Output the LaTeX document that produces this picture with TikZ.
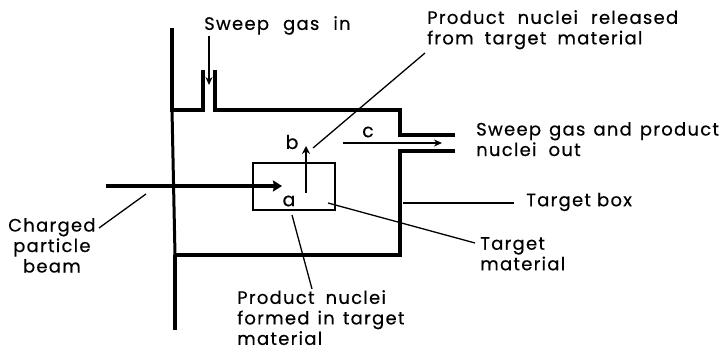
\documentclass[tikz,border=0pt]{standalone}
\usepackage{fontspec}
\setmainfont[LetterSpace=7,FakeBold=0.4]{Poppins}
\usetikzlibrary{arrows.meta}
\newcommand{\gp}[1]{\kern#1pt\relax}
\begin{document}
\begin{tikzpicture}[x=1pt,y=-1pt,
  wall/.style={line width=4.6pt,line cap=butt,line join=miter},
  midwall/.style={line width=3pt},
  thin line/.style={line width=1.3pt},
  arrowline/.style={line width=1.6pt,-{Stealth[length=8pt,width=7pt]}},
  beamline/.style={line width=3.8pt,-{Stealth[length=9pt,width=11pt,inset=1pt]}},
  lab/.style={inner sep=0pt,align=left,anchor=north west,font=\fontsize{18}{20.5}\selectfont},
  letter/.style={inner sep=0pt,font=\fontsize{19}{19}\selectfont}]
\useasboundingbox (0,0) rectangle (728,352);
\fill[white] (0,0) rectangle (728,352);
% coordinates
\coordinate (tl) at (172,28);
\coordinate (c1) at (172,110);
\coordinate (s1b) at (203,110);
\coordinate (s1t) at (203,70);
\coordinate (s2t) at (215,70);
\coordinate (s2b) at (215,110);
\coordinate (c2) at (400,110);
\coordinate (d1) at (400,135);
\coordinate (d1e) at (455,135);
\coordinate (d2e) at (455,151);
\coordinate (d2) at (400,151);
\coordinate (c3) at (400,255);
\coordinate (c4) at (175,255);
\coordinate (bl) at (175,330);
% walls
\draw[wall] (tl) -- (c1) -- (s1b) -- (s1t);
\draw[wall] (s2t) -- (s2b) -- (c2) -- (d1) -- (d1e);
\draw[wall] (d2e) -- (d2) -- (c3) -- (c4);
\draw[wall] (c4) -- (bl);
\draw[midwall] (c1) -- (c4);
% target material
\node[draw,line width=2pt,minimum width=82pt,minimum height=47pt,inner sep=0pt] (box) at (293.5,187) {};
% arrows
\coordinate (sa) at (209,36);\coordinate (sb) at (209,85);
\draw[arrowline] (sa) -- (sb);
\coordinate (ba) at (106,186);\coordinate (bb) at (282,186);
\draw[beamline] (ba) -- (bb);
\coordinate (na) at (306,193);\coordinate (nb) at (306,146);
\draw[line width=2pt,-{Stealth[length=8pt,width=8pt]}] (na) -- (nb);
\coordinate (ca) at (343,143);\coordinate (cb) at (442,143);
\draw[arrowline] (ca) -- (cb);
% texts
\node[lab] (t1) at (204,16) {Sweep \gp{8}gas \gp{8}in};
\node[lab] (t2) at (427,10) {Product \gp{7}nuclei \gp{7}released\\from \gp{5}target \gp{5}material};
\node[lab] (t3) at (476,122) {Sweep \gp{2}gas \gp{2}and \gp{2}product\\nuclei \gp{6}out};
\node[lab,anchor=west] (t4) at (526,202) {Target box};
\node[lab] (t5) at (480,237) {Target\\material};
\node[lab,align=center] (t6) at (8,218) {Charged\\particle\\beam};
\node[lab] (t7) at (237,290) {Product \gp{5}nuclei\\formed \gp{2}in \gp{2}target\\material};
\node[letter] (la) at (289,201) {a};
\node[letter] (lb) at (292,142) {b};
\node[letter] (lc) at (368,132) {c};
% leaders
\coordinate (p1) at (313,148);\coordinate (p2) at (425,53);
\draw[thin line] (p1) -- (p2);
\coordinate (p3) at (292,215);\coordinate (p4) at (312,289);
\draw[thin line] (p3) -- (p4);
\coordinate (p5) at (328,203);\coordinate (p6) at (475,243);
\draw[thin line] (p5) -- (p6);
\coordinate (p7) at (403,203);\coordinate (p8) at (514,203);
\draw[thin line] (p7) -- (p8);
\coordinate (p9) at (146,194);\coordinate (p10) at (99,228);
\draw[thin line] (p9) -- (p10);
\end{tikzpicture}
\end{document}
